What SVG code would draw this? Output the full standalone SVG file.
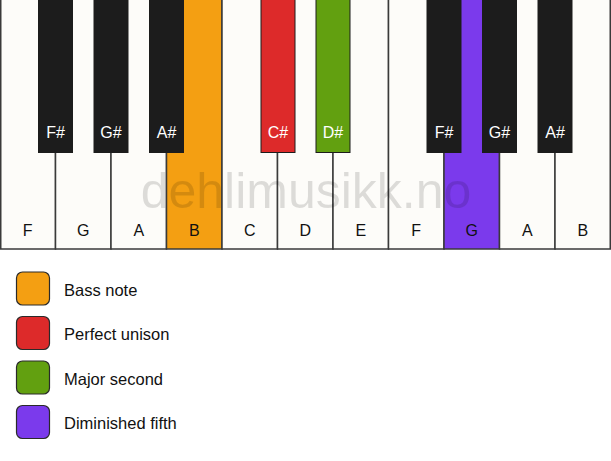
<svg xmlns="http://www.w3.org/2000/svg" width="611" height="461" viewBox="0 0 611 461">
<style>
.w{fill:#fdfcf9;stroke:#3a3a3a;stroke-width:1.5}
.b{fill:#1c1c1c;stroke:#1c1c1c;stroke-width:1}
.wl{font-family:"Liberation Sans",Arial,sans-serif;font-size:16px;fill:#111;text-anchor:middle}
.bl{font-family:"Liberation Sans",Arial,sans-serif;font-size:16px;fill:#fff;text-anchor:middle}
.lg{font-family:"Liberation Sans",Arial,sans-serif;font-size:16.5px;fill:#111}
.sw{stroke:#2a2a2a;stroke-width:1.2}
</style>
<rect width="611" height="461" fill="#fff"/>
<g id="white-keys">
<g id="key-F1"><rect class="w" x="0.75" y="-1" width="54.75" height="250"/><text class="wl" x="27.75" y="236">F</text></g>
<g id="key-G1"><rect class="w" x="55.5" y="-1" width="55.5" height="250"/><text class="wl" x="83.25" y="236">G</text></g>
<g id="key-A1"><rect class="w" x="111" y="-1" width="55.5" height="250"/><text class="wl" x="138.75" y="236">A</text></g>
<g id="key-B1"><rect class="w" x="166.5" y="-1" width="55.5" height="250" style="fill:#f49f12"/><text class="wl" x="194.25" y="236">B</text></g>
<g id="key-C"><rect class="w" x="222" y="-1" width="55.5" height="250"/><text class="wl" x="249.75" y="236">C</text></g>
<g id="key-D"><rect class="w" x="277.5" y="-1" width="55.5" height="250"/><text class="wl" x="305.25" y="236">D</text></g>
<g id="key-E"><rect class="w" x="333" y="-1" width="55.5" height="250"/><text class="wl" x="360.75" y="236">E</text></g>
<g id="key-F2"><rect class="w" x="388.5" y="-1" width="55.5" height="250"/><text class="wl" x="416.25" y="236">F</text></g>
<g id="key-G2"><rect class="w" x="444" y="-1" width="55.5" height="250" style="fill:#7b3aec"/><text class="wl" x="471.75" y="236">G</text></g>
<g id="key-A2"><rect class="w" x="499.5" y="-1" width="55.5" height="250"/><text class="wl" x="527.25" y="236">A</text></g>
<g id="key-B2"><rect class="w" x="555" y="-1" width="55.25" height="250"/><text class="wl" x="582.75" y="236">B</text></g>
</g>
<text x="306" y="208" font-family="'Liberation Sans',Arial,sans-serif" font-size="50" fill="#000" fill-opacity="0.13" text-anchor="middle">dehlimusikk.no</text>
<g id="black-keys">
<g id="key-Fs1"><rect class="b" x="38.5" y="-1" width="34" height="153.5"/><text class="bl" x="55.5" y="138">F#</text></g>
<g id="key-Gs1"><rect class="b" x="94" y="-1" width="34" height="153.5"/><text class="bl" x="111" y="138">G#</text></g>
<g id="key-As1"><rect class="b" x="149.5" y="-1" width="34" height="153.5"/><text class="bl" x="166.5" y="138">A#</text></g>
<g id="key-Cs"><rect class="b" x="261" y="-1" width="34" height="153.5" style="fill:#dd2a2a"/><text class="bl" x="278" y="138">C#</text></g>
<g id="key-Ds"><rect class="b" x="316" y="-1" width="34" height="153.5" style="fill:#62a010"/><text class="bl" x="333" y="138">D#</text></g>
<g id="key-Fs2"><rect class="b" x="427" y="-1" width="34" height="153.5"/><text class="bl" x="444" y="138">F#</text></g>
<g id="key-Gs2"><rect class="b" x="482.5" y="-1" width="34" height="153.5"/><text class="bl" x="499.5" y="138">G#</text></g>
<g id="key-As2"><rect class="b" x="538" y="-1" width="34" height="153.5"/><text class="bl" x="555" y="138">A#</text></g>
</g>
<g id="legend">
<g id="legend-bass"><rect class="sw" x="16.5" y="272" width="33" height="33" rx="6" fill="#f49f12"/><text class="lg" x="64" y="296">Bass note</text></g>
<g id="legend-unison"><rect class="sw" x="16.5" y="316.5" width="33" height="33" rx="6" fill="#dd2a2a"/><text class="lg" x="64" y="340">Perfect unison</text></g>
<g id="legend-second"><rect class="sw" x="16.5" y="361" width="33" height="33" rx="6" fill="#62a010"/><text class="lg" x="64" y="385">Major second</text></g>
<g id="legend-fifth"><rect class="sw" x="16.5" y="405.5" width="33" height="33" rx="6" fill="#7b3aec"/><text class="lg" x="64" y="429">Diminished fifth</text></g>
</g>
</svg>
